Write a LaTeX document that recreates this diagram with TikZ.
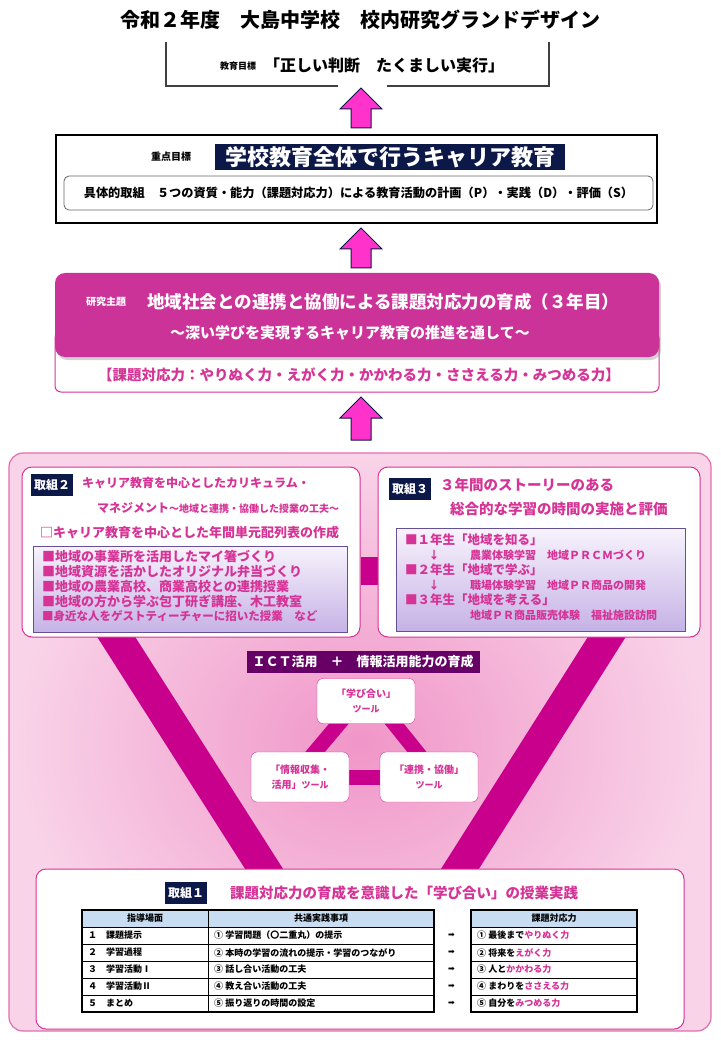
\documentclass[tikz,border=0pt]{standalone}
\usepackage{fontspec}
\setmainfont{Noto Sans CJK JP}
\newfontfamily\symfont{DejaVu Sans}
\usetikzlibrary{positioning,shadows,backgrounds}

\definecolor{magtext}{RGB}{214,51,150}
\definecolor{magbox}{RGB}{204,51,153}
\definecolor{magbar}{RGB}{200,0,140}
\definecolor{arrowpink}{RGB}{255,51,204}
\definecolor{navy}{RGB}{12,24,72}
\definecolor{ictpurple}{RGB}{102,0,102}
\definecolor{panelpink}{RGB}{240,150,200}
\definecolor{panellight}{RGB}{249,212,233}
\definecolor{panelline}{RGB}{226,110,175}
\definecolor{lavtop}{RGB}{247,243,252}
\definecolor{lavbot}{RGB}{198,178,230}
\definecolor{listline}{RGB}{100,80,150}
\definecolor{headblue}{RGB}{200,220,242}

\begin{document}
\begin{tikzpicture}[x=1pt, y=-1pt,
    jp/.style={font=\bfseries\fontsize{#1}{#1}\selectfont, inner sep=0pt},
    jp/.default=12,
    pinktext/.style={jp=#1, text=magtext},
    blockarrow/.style={fill=arrowpink, draw=navy, line width=1pt},
    bracket/.style={draw=black!75, line width=1.3pt},
    card/.style={draw=magtext, line width=1pt, fill=white, rounded corners=10pt, inner sep=0pt},
    tag/.style={fill=navy, text=white, font=\bfseries\fontsize{12}{12}\selectfont, inner xsep=3pt, inner ysep=5pt},
    listbox/.style={draw=listline, top color=lavtop, bottom color=lavbot, inner sep=0pt},
    vbar/.style={line width=32pt, draw=magbar},
    toolbar/.style={line width=15pt, draw=magbar},
    toolbox/.style={draw=magtext, fill=white, rounded corners=6pt, minimum width=98pt,
        align=center, text=magtext, font=\bfseries\fontsize{10}{12}\selectfont},
    cell/.style={anchor=west, font=\bfseries\fontsize{9}{9}\selectfont, inner sep=0pt},
    tline/.style={draw=black, line width=1pt}
]
    \useasboundingbox (0,0) rectangle (720,1040);

    % Title
    \node[jp=20] (title) at (360,20) {令和２年度　大島中学校　校内研究グランドデザイン};

    % School goal (open bracket)
    \node[jp=16, anchor=west] (goal) at (264,65) {「正しい判断　たくましい実行」};
    \node[jp=9] (goallbl) at (238,66) {教育目標};
    \draw[bracket] (166,42) |- (338,86);
    \draw[bracket] (387,86) -| (549,42);

    % Upward block arrows
    \foreach \t/\b in {88/128, 228/268, 397/440}
        \draw[blockarrow] (361,\t) -- (382,\t+21) -- (371,\t+21) -- (371,\b)
            -- (351,\b) -- (351,\t+21) -- (340,\t+21) -- cycle;

    % Focus goal box
    \node[draw, line width=1.4pt, minimum width=601pt, minimum height=88pt] (focus) at (356.5,179) {};
    \node[jp=10] (focuslbl) at (171,157) {重点目標};
    \node[fill=navy, text=white, jp=22, inner xsep=10pt, inner ysep=2pt] (career) at (390,157) {学校教育全体で行うキャリア教育};
    \node[draw=black!60, line width=0.8pt, rounded corners=5pt, minimum width=589pt, minimum height=34pt,
        jp=12.2] (plan) at (358.5,193) {具体的取組　５つの資質・能力（課題対応力）による教育活動の計画（P）・実践（D）・評価（S）};

    % Research theme
    \node[draw=magtext, line width=1pt, rounded corners=6pt, minimum width=604pt, minimum height=60pt] (ability) at (357,362) {};
    \node[pinktext=14.5] (abilitytxt) at (359,375) {【課題対応力：やりぬく力・えがく力・かかわる力・ささえる力・みつめる力】};
    \node[fill=magbox, rounded corners=10pt, minimum width=604pt, minimum height=84pt,
        drop shadow={shadow xshift=2pt, shadow yshift=-3pt, opacity=0.35}] (theme) at (357,315) {};
    \node[jp=10, text=white] (themelbl) at (106,302) {研究主題};
    \node[jp=17.5, text=white, anchor=west] (themetxt) at (147,302) {地域社会との連携と協働による課題対応力の育成（３年目）};
    \node[jp=15, text=white] (themesub) at (350,333) {～深い学びを実現するキャリア教育の推進を通して～};

    % Pink panel
    \begin{scope}[on background layer]
        \node[rounded corners=14pt, draw=panelline, line width=1.2pt, inner color=panelpink, outer color=panellight,
            minimum width=702pt, minimum height=578pt] (panel) at (360,742) {};
    \end{scope}

    % Effort 2
    \node[card, minimum width=338pt, minimum height=170pt] (t2) at (191,552) {};
    \node[tag] (t2tag) at (52,485) {取組２};
    \node[pinktext=12, anchor=west] (t2a) at (82,483) {キャリア教育を中心としたカリキュラム・};
    \node[pinktext=12, anchor=west] (t2b) at (97,508) {マネジメント{\fontsize{10}{10}\selectfont ～地域と連携・協働した授業の工夫～}};
    \node[pinktext=13, anchor=west] (t2c) at (40,533) {□キャリア教育を中心とした年間単元配列表の作成};
    \node[listbox, minimum width=314pt, minimum height=86pt] (t2list) at (190,589) {};
    \foreach \t [count=\i from 0] in {■地域の事業所を活用したマイ箸づくり, ■地域資源を活かしたオリジナル弁当づくり,
        ■地域の農業高校、商業高校との連携授業, ■地域の方から学ぶ包丁研ぎ講座、木工教室}
        \node[pinktext=13, anchor=west] (item\i) at (42,557+14.75*\i) {\t};
    \node[pinktext=11.5, anchor=west] (item4) at (42,616) {■身近な人をゲストティーチャーに招いた授業　など};

    % Effort 3
    \node[card, minimum width=322pt, minimum height=170pt] (t3) at (539,552) {};
    \node[tag] (t3tag) at (410,489) {取組３};
    \node[pinktext=14.5, anchor=west] (t3a) at (440,485) {３年間のストーリーのある};
    \node[pinktext=14.5, anchor=west] (t3b) at (450,509) {総合的な学習の時間の実施と評価};
    \node[listbox, minimum width=289pt, minimum height=103pt] (t3list) at (540.5,579.5) {};
    \node[pinktext=12.5, anchor=west] (y1) at (405,540) {■１年生「地域を知る」};
    \node[pinktext=11] (d1) at (434,555) {↓};
    \node[pinktext=11, anchor=west] (y1a) at (470,555) {農業体験学習　地域ＰＲＣＭづくり};
    \node[pinktext=12.5, anchor=west] (y2) at (405,570) {■２年生「地域で学ぶ」};
    \node[pinktext=11] (d2) at (434,585) {↓};
    \node[pinktext=11, anchor=west] (y2a) at (470,585) {職場体験学習　地域ＰＲ商品の開発};
    \node[pinktext=12.5, anchor=west] (y3) at (405,600) {■３年生「地域を考える」};
    \node[pinktext=11, anchor=west] (y3a) at (470,615) {地域ＰＲ商品販売体験　福祉施設訪問};

    % ICT and tools
    \node[fill=ictpurple, text=white, jp=13, inner xsep=6pt, inner ysep=5pt] (ict) at (363,662) {ＩＣＴ活用　＋　情報活用能力の育成};
    \node[toolbox, minimum height=45pt] (learn) at (366,701) {「学び合い」\\[3pt]{\fontsize{9}{9}\selectfont ツール}};
    \node[toolbox, minimum height=50pt] (info) at (300,777) {「情報収集・\\[3pt]活用」{\fontsize{9}{9}\selectfont ツール}};
    \node[toolbox, minimum height=50pt] (collab) at (429,777) {「連携・協働」\\[3pt]{\fontsize{9}{9}\selectfont ツール}};

    % Effort 1
    \node[card, minimum width=648pt, minimum height=160pt] (t1) at (360,949) {};
    \node[tag] (t1tag) at (186,893) {取組１};
    \node[pinktext=14.5, anchor=west] (t1a) at (230,893) {課題対応力の育成を意識した「学び合い」の授業実践};

    % Tables
    \fill[headblue] (82,910) rectangle (434,927);
    \fill[headblue] (471,910) rectangle (637,927);
    \foreach \y in {927,944,961,978,995} {
        \draw[tline] (82,\y) -- (434,\y);
        \draw[tline] (471,\y) -- (637,\y);
    }
    \draw[tline] (208,910) -- (208,1012);
    \draw[tline, line width=1.6pt] (82,910) rectangle (434,1012);
    \draw[tline, line width=1.6pt] (471,910) rectangle (637,1012);
    \node[cell, anchor=center] (h1) at (145,918.5) {指導場面};
    \node[cell, anchor=center] (h2) at (321,918.5) {共通実践事項};
    \node[cell, anchor=center] (h3) at (554,918.5) {課題対応力};
    \foreach \a/\b/\c/\d [count=\i from 0] in {
        {１　課題提示}/{① 学習問題（〇二重丸）の提示}/{① 最後まで}/{やりぬく力},
        {２　学習過程}/{② 本時の学習の流れの提示・学習のつながり}/{② 将来を}/{えがく力},
        {３　学習活動Ⅰ}/{③ 話し合い活動の工夫}/{③ 人と}/{かかわる力},
        {４　学習活動Ⅱ}/{④ 教え合い活動の工夫}/{④ まわりを}/{ささえる力},
        {５　まとめ}/{⑤ 振り返りの時間の設定}/{⑤ 自分を}/{みつめる力}} {
        \node[cell] (s\i) at (88,935.5+17*\i) {\a};
        \node[cell] (p\i) at (214,935.5+17*\i) {\b};
        \node[cell, font=\symfont\fontsize{8}{8}\selectfont] (ar\i) at (448,935.5+17*\i) {➡};
        \node[cell] (c\i) at (477,935.5+17*\i) {\c\textcolor{magtext}{\d}};
    }

    % Connecting bars
    \begin{scope}[on background layer]
        \draw[vbar] ([xshift=82.3pt, yshift=20pt]t2.south west) -- ([xshift=241.7pt, yshift=-21pt]t1.north west);
        \draw[vbar] ([xshift=241.6pt, yshift=20pt]t3.south west) -- ([xshift=411.4pt, yshift=-21pt]t1.north west);
        \draw[line width=28pt, draw=magbar] ([yshift=-19pt]t2.east) -- ([yshift=-19pt]t3.west);
        \draw[toolbar] ([xshift=-8pt]learn.center) -- ([xshift=-6pt]info.center);
        \draw[toolbar] ([xshift=10pt]learn.center) -- ([xshift=8pt]collab.center);
        \draw[toolbar] (info) -- (collab);
    \end{scope}
\end{tikzpicture}
\end{document}
